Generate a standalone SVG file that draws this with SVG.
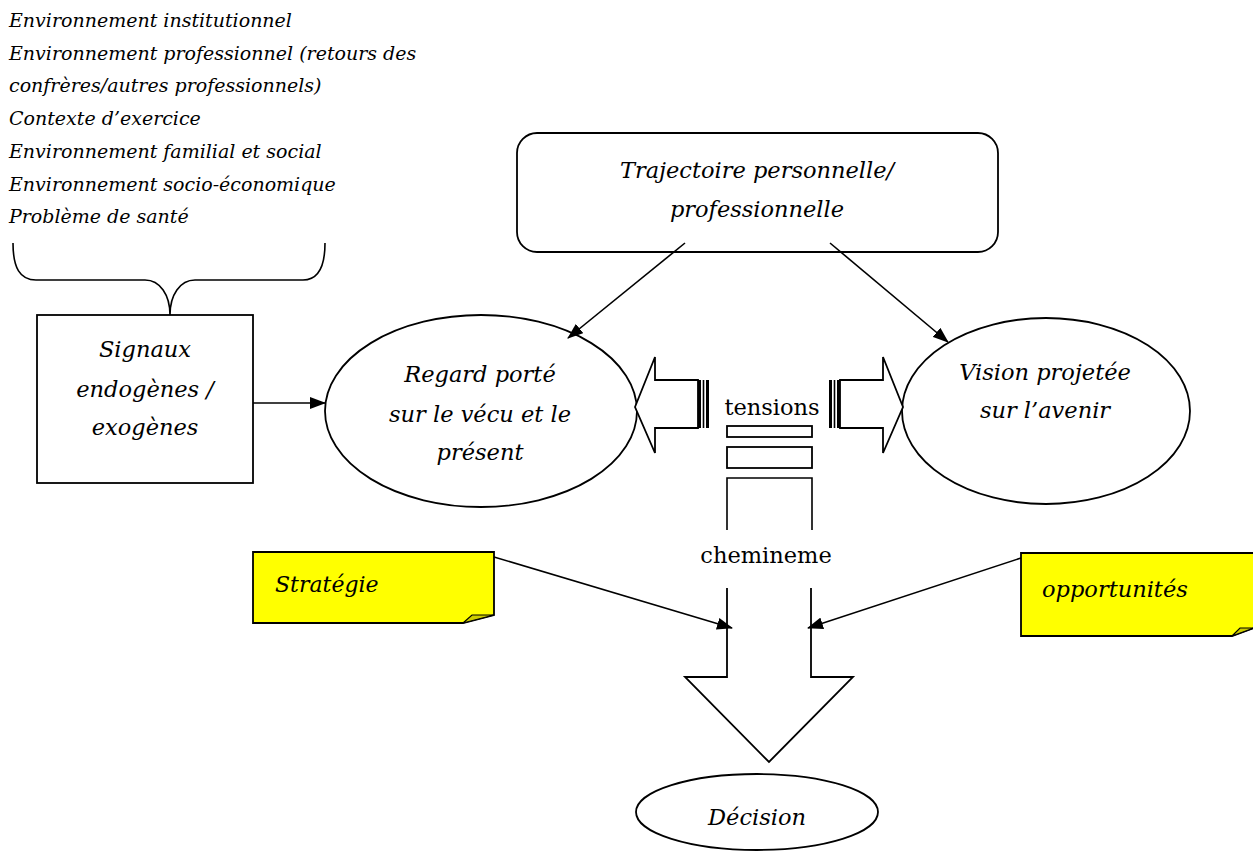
<svg xmlns="http://www.w3.org/2000/svg" width="1253" height="866" viewBox="0 0 1253 866">
<style>
.it{font-family:"DejaVu Serif","Liberation Serif",serif;font-style:italic;fill:#000}
.rg{font-family:"DejaVu Serif","Liberation Serif",serif;fill:#000}
.lst{font-size:19px}
.lbl{font-size:22.5px;text-anchor:middle}
.shp{fill:#fff;stroke:#000;stroke-width:1.8}
.ln{fill:none;stroke:#000;stroke-width:1.6}
.note{fill:#ffff00;stroke:#000;stroke-width:1.8}
</style>
<defs>
<marker id="ah" viewBox="0 0 16 12" refX="15" refY="6" markerWidth="16" markerHeight="12" markerUnits="userSpaceOnUse" orient="auto">
<path d="M0,0 L16,6 L0,12 Z" fill="#000"/>
</marker>
</defs>
<rect width="1253" height="866" fill="#fff"/>

<g id="factors">
<text class="it lst" x="9" y="27">Environnement institutionnel</text>
<text class="it lst" x="9" y="60">Environnement professionnel (retours des</text>
<text class="it lst" x="9" y="92">confrères/autres professionnels)</text>
<text class="it lst" x="9" y="125">Contexte d’exercice</text>
<text class="it lst" x="9" y="158">Environnement familial et social</text>
<text class="it lst" x="9" y="191">Environnement socio-économique</text>
<text class="it lst" x="9" y="223">Problème de santé</text>
<path class="ln" d="M13,243 C13,268 20,280 36,280 L145,280 C160,280 170,295 170,315 C170,295 180,280 195,280 L303,280 C318,280 325,268 325,243"/>
</g>

<g id="signaux">
<rect class="shp" x="37" y="315" width="216" height="168"/>
<text class="it lbl" x="145" y="357">Signaux</text>
<text class="it lbl" x="145" y="397">endogènes /</text>
<text class="it lbl" x="145" y="435">exogènes</text>
</g>

<g id="trajectoire">
<rect class="shp" x="517" y="133" width="481" height="119" rx="20"/>
<text class="it lbl" x="757" y="178">Trajectoire personnelle/</text>
<text class="it lbl" x="757" y="217">professionnelle</text>
</g>

<g id="regard">
<ellipse class="shp" cx="481" cy="411" rx="156" ry="96"/>
<text class="it lbl" x="480" y="382">Regard porté</text>
<text class="it lbl" x="480" y="422">sur le vécu et le</text>
<text class="it lbl" x="480" y="460">présent</text>
</g>

<g id="vision">
<ellipse class="shp" cx="1046" cy="411" rx="144" ry="93"/>
<text class="it lbl" x="1045" y="380">Vision projetée</text>
<text class="it lbl" x="1045" y="418">sur l’avenir</text>
</g>

<g id="tensions">
<path class="shp" d="M635,407 L655,357 L655,380 L698,380 L698,428 L655,428 L655,453 Z"/>
<rect x="698" y="380" width="3" height="48" fill="#000"/>
<line class="ln" x1="703.5" y1="380" x2="703.5" y2="428"/>
<rect x="706" y="380" width="3" height="48" fill="#000"/>
<path class="shp" d="M903,407 L883,357 L883,380 L840,380 L840,428 L883,428 L883,453 Z"/>
<rect x="837" y="380" width="3" height="48" fill="#000"/>
<line class="ln" x1="834.5" y1="380" x2="834.5" y2="428"/>
<rect x="829" y="380" width="3" height="48" fill="#000"/>
<text class="rg lbl" x="772" y="415" font-size="19">tensions</text>
<rect class="shp" x="727" y="426" width="85" height="11"/>
<rect class="shp" x="727" y="447" width="85" height="21"/>
<path class="ln" d="M727,530 L727,478 L812,478 L812,530"/>
<text class="rg lbl" x="766" y="563" font-size="20">chemineme</text>
<path class="shp" d="M727,588 L727,677 L685,677 L769,762 L853,677 L811,677 L811,588"/>
</g>

<g id="strategie">
<path class="note" d="M253,552 L494,552 L494,615 L463,623 L253,623 Z"/>
<path d="M463,623 L472,615 L494,615 Z" fill="#cccc00" stroke="#000" stroke-width="1.2"/>
<text class="it" x="275" y="592" font-size="22">Stratégie</text>
</g>

<g id="opportunites">
<path class="note" d="M1021,553 L1254,553 L1254,628 L1232,636 L1021,636 Z"/>
<path d="M1232,636 L1240,628 L1254,628 Z" fill="#cccc00" stroke="#000" stroke-width="1.2"/>
<text class="it" x="1042" y="597" font-size="22.5">opportunités</text>
</g>

<g id="decision">
<ellipse class="shp" cx="757" cy="812" rx="121" ry="38"/>
<text class="it lbl" x="757" y="825">Décision</text>
</g>

<g id="connectors">
<line class="ln" x1="253" y1="403" x2="325" y2="403" marker-end="url(#ah)"/>
<line class="ln" x1="685" y1="243" x2="568" y2="338" marker-end="url(#ah)"/>
<line class="ln" x1="830" y1="243" x2="948" y2="342" marker-end="url(#ah)"/>
<line class="ln" x1="494" y1="557" x2="732" y2="628" marker-end="url(#ah)"/>
<line class="ln" x1="1021" y1="558" x2="808" y2="628" marker-end="url(#ah)"/>
</g>
</svg>
